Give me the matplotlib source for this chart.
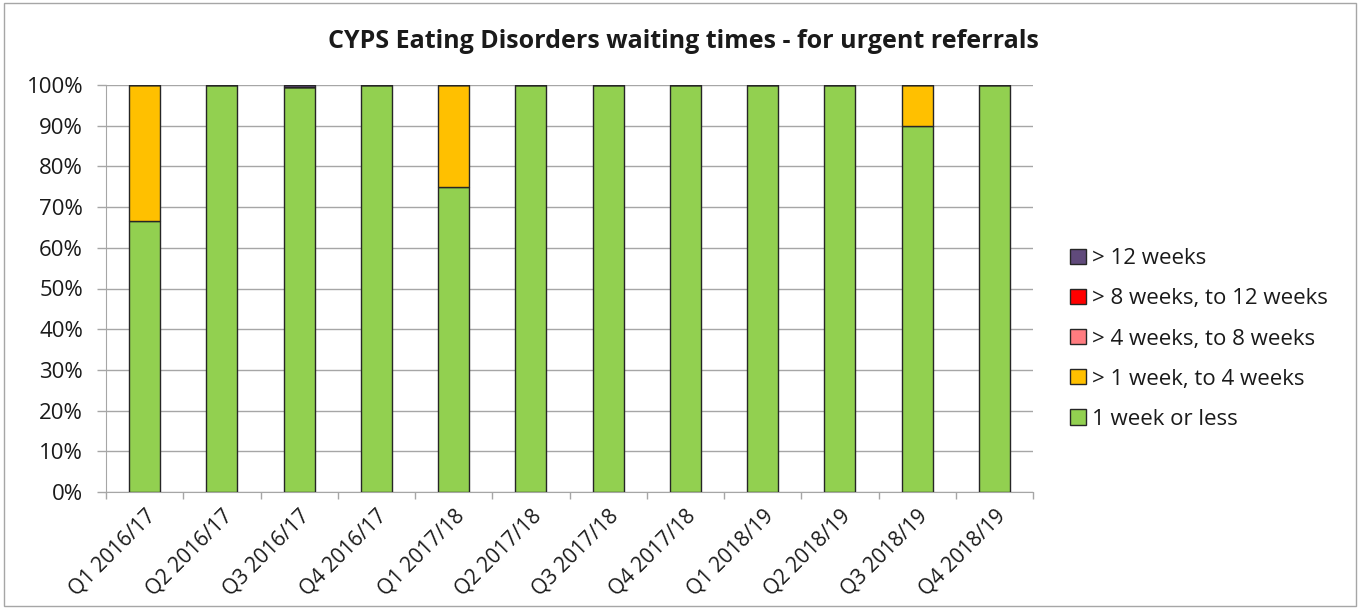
import matplotlib
matplotlib.use("Agg")
import matplotlib.pyplot as plt
from matplotlib.patches import Rectangle
import numpy as np

categories = ["Q1 2016/17", "Q2 2016/17", "Q3 2016/17", "Q4 2016/17",
              "Q1 2017/18", "Q2 2017/18", "Q3 2017/18", "Q4 2017/18",
              "Q1 2018/19", "Q2 2018/19", "Q3 2018/19", "Q4 2018/19"]
week1_or_less = [66.7, 100, 99.5, 100, 75, 100, 100, 100, 100, 100, 90, 100]
week1_to_4 = [33.3, 0, 0, 0, 25, 0, 0, 0, 0, 0, 10, 0]
week4_to_8 = [0] * 12
week8_to_12 = [0] * 12
over_12 = [0, 0, 0.5, 0, 0, 0, 0, 0, 0, 0, 0, 0]

series = [
    ("1 week or less", week1_or_less, "#92D050"),
    ("> 1 week, to 4 weeks", week1_to_4, "#FFC000"),
    ("> 4 weeks, to 8 weeks", week4_to_8, "#FF7C80"),
    ("> 8 weeks, to 12 weeks", week8_to_12, "#FF0000"),
    ("> 12 weeks", over_12, "#604A7B"),
]

plt.rcParams['font.family'] = ['Open Sans', 'DejaVu Sans']

W, H = 1361, 609
fig = plt.figure(figsize=(W / 100, H / 100), dpi=100)
fig.patches.append(Rectangle((4 / W, 3 / H), (1356 - 4) / W, (H - 6) / H, transform=fig.transFigure,
                             fill=False, edgecolor="#A6A6A6", linewidth=1))
L, R, T, B = 106, 1033, 85, 492
ax = fig.add_axes([L / W, 1 - B / H, (R - L) / W, (B - T) / H])

x = np.arange(len(categories))
bottom = np.zeros(len(categories))
handles = []
for name, vals, col in series:
    v = np.array(vals, dtype=float)
    b = ax.bar(x, v, 0.4, bottom=bottom, color=col, edgecolor="#262626",
               linewidth=1.0, label=name, zorder=3)
    handles.append(b)
    bottom += v

ax.set_xlim(-0.5, len(categories) - 0.5)
ax.set_ylim(0, 100)
ax.set_yticks(np.arange(0, 101, 10))
ax.set_yticklabels([f"{v}%" for v in range(0, 101, 10)], fontsize=16, color="#1a1a1a")
ax.yaxis.grid(True, color="#A6A6A6", linewidth=1, zorder=0)
ax.set_xticks(x)
ax.set_xticklabels(categories, rotation=45, ha="right", rotation_mode="anchor",
                   fontsize=15, color="#1a1a1a")
ax.tick_params(axis="x", length=0, pad=10)
ax.set_xticks(np.arange(-0.5, len(categories), 1), minor=True)
ax.tick_params(axis="x", which="minor", length=5, color="#A6A6A6", width=1)
ax.tick_params(axis="y", length=6.5, color="#A6A6A6", width=1, pad=10)
for s in ["top", "right"]:
    ax.spines[s].set_visible(False)
for s in ["left", "bottom"]:
    ax.spines[s].set_color("#A6A6A6")
ax.set_axisbelow(True)

fig.text(683 / W, 1 - 42 / H, "CYPS Eating Disorders waiting times - for urgent referrals",
         ha="center", va="center", fontsize=18, fontweight="bold", color="#1a1a1a")

leg = fig.legend(handles=handles[::-1], labels=[s[0] for s in series][::-1],
                 loc="center left", bbox_to_anchor=(1066 / W, 1 - 339 / H),
                 frameon=False, fontsize=16, handlelength=0.68, handleheight=0.68,
                 labelspacing=0.86, handletextpad=0.3, borderaxespad=0, borderpad=0.2)
for t in leg.get_texts():
    t.set_color("#1a1a1a")

fig.savefig("out.png", dpi=100)
